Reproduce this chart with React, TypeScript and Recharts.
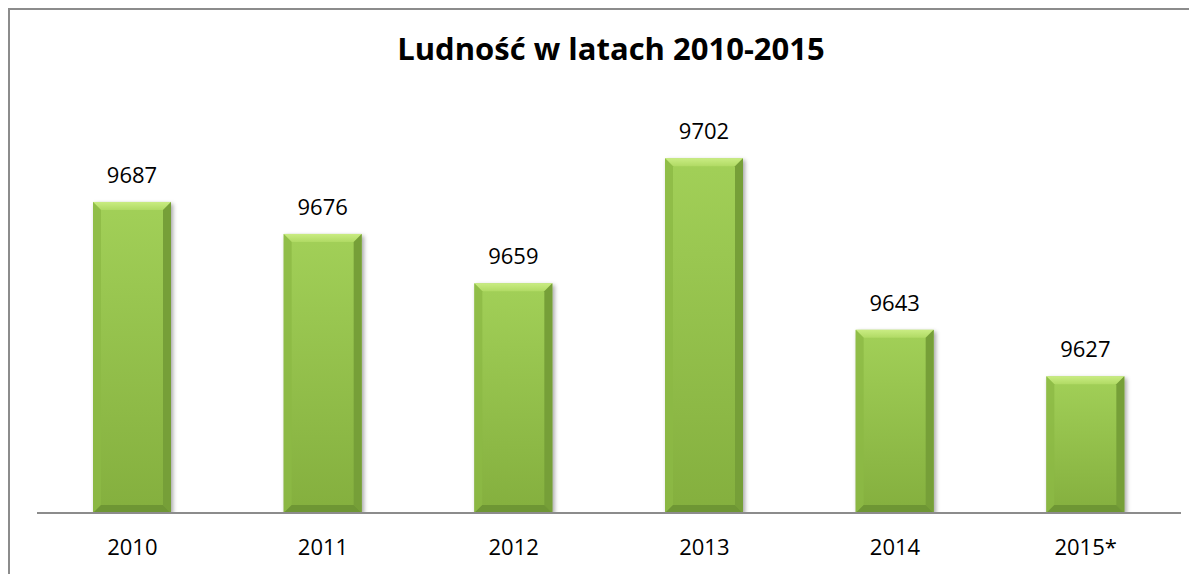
import React from "react";
import { BarChart, Bar, XAxis, YAxis, LabelList } from "recharts";

const YEARS = ["2010", "2011", "2012", "2013", "2014", "2015*"];
const POPULATION = [9687, 9676, 9659, 9702, 9643, 9627];
const TITLE = "Ludność w latach 2010-2015";

const FONT = "'Open Sans', Lato, sans-serif";

const data = YEARS.map((year, i) => ({ year, value: POPULATION[i] }));

function BevelBar(props: any) {
  const { x, y, width, height } = props;
  if (!width || !height) return null;
  const b = 8;
  const r = x + width;
  const btm = y + height;
  return (
    <g style={{ filter: "drop-shadow(2px 2px 2px rgba(0,0,0,0.35))" }}>
      <rect x={x} y={y} width={width} height={height} fill="url(#barBody)" />
      <polygon points={`${x},${y} ${r},${y} ${r - b},${y + b} ${x + b},${y + b}`} fill="url(#barTop)" />
      <polygon points={`${x},${y} ${x + b},${y + b} ${x + b},${btm - b} ${x},${btm}`} fill="#8cb945" opacity={0.8} />
      <polygon points={`${r},${y} ${r},${btm} ${r - b},${btm - b} ${r - b},${y + b}`} fill="#769f38" />
      <polygon points={`${x},${btm} ${r},${btm} ${r - b},${btm - b} ${x + b},${btm - b}`} fill="#6e9634" />
    </g>
  );
}

function YearTick(props: any) {
  const { x, y, payload } = props;
  return (
    <text x={x} y={y + 42} textAnchor="middle" fill="#000" fontSize={22} fontFamily={FONT}>
      {payload.value}
    </text>
  );
}

function ValueLabel(props: any) {
  const { x, y, width, value } = props;
  return (
    <text x={x + width / 2} y={y - 19} textAnchor="middle" fill="#000" fontSize={22} fontFamily={FONT}>
      {value}
    </text>
  );
}

export default function App() {
  return (
    <div
      style={{
        position: "relative",
        width: 1187,
        height: 564,
        borderLeft: "2px solid #8c8c8c",
        borderTop: "2px solid #8c8c8c",
        background: "#fff",
      }}
    >
      <div
        style={{
          position: "absolute",
          left: 0,
          width: 1202,
          top: 19,
          textAlign: "center",
          fontFamily: FONT,
          fontWeight: 700,
          fontSize: 31,
          lineHeight: "38px",
          color: "#000",
        }}
      >
        {TITLE}
      </div>
      <BarChart
        width={1187}
        height={564}
        data={data}
        margin={{ top: 96, right: 16, bottom: 21, left: 27 }}
      >
        <defs>
          <linearGradient id="barBody" x1="0" y1="0" x2="0" y2="1">
            <stop offset="0%" stopColor="#a2d058" />
            <stop offset="100%" stopColor="#84af3e" />
          </linearGradient>
          <linearGradient id="barTop" x1="0" y1="0" x2="0" y2="1">
            <stop offset="0%" stopColor="#c9ec82" />
            <stop offset="100%" stopColor="#b0da64" />
          </linearGradient>
        </defs>
        <XAxis
          dataKey="year"
          axisLine={{ stroke: "#8c8c8c", strokeWidth: 2 }}
          tickLine={false}
          tickSize={0}
          tickMargin={0}
          height={40}
          tick={YearTick}
          interval={0}
        />
        <YAxis hide domain={[9580, 9720]} allowDataOverflow />
        <Bar dataKey="value" barSize={78} shape={BevelBar} isAnimationActive={false}>
          <LabelList dataKey="value" content={ValueLabel} />
        </Bar>
      </BarChart>
    </div>
  );
}
